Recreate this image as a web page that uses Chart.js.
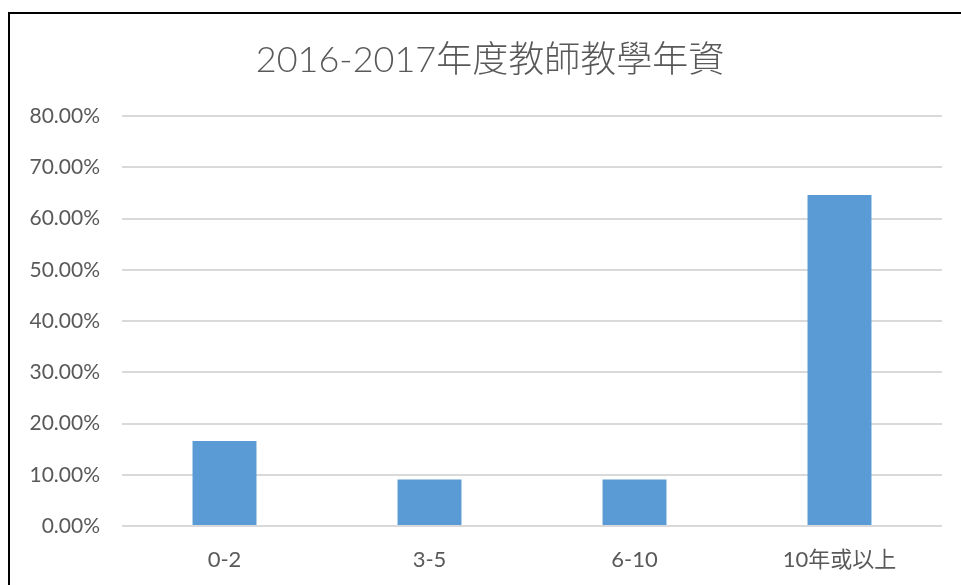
<!DOCTYPE html>
<html>
<head>
<meta charset="utf-8">
<script src="https://cdn.jsdelivr.net/npm/chart.js@4/dist/chart.umd.min.js"></script>
<style>
  html, body { margin: 0; padding: 0; background: #fff; }
  #wrap { position: relative; width: 961px; height: 585px; overflow: hidden; }
  #frame { position: absolute; left: 8px; top: 12px; width: 1000px; height: 700px;
           border-left: 2px solid #000; border-top: 2px solid #000; }
  canvas { position: absolute; left: 0; top: 0; }
</style>
</head>
<body>
<div id="wrap">
  <div id="frame"></div>
  <canvas id="barChart" width="961" height="585"></canvas>
</div>
<script>
// --- DATA ---
const categories = ['0-2', '3-5', '6-10', '10年或以上'];
const shares = [16.6, 9.1, 9.1, 64.6];   // percent of teachers
const yTicks = [0, 10, 20, 30, 40, 50, 60, 70, 80];

const FONT = "Lato, 'Noto Sans CJK TC', 'Noto Sans', sans-serif";
const GREY = '#595959';

// centre the title like the original (a bit right of the canvas middle)
const shiftTitle = {
    id: 'shiftTitle',
    afterLayout(chart) {
        if (chart.titleBlock) chart.titleBlock.left = 38;
    }
};

const ctx = document.getElementById('barChart').getContext('2d');

new Chart(ctx, {
    type: 'bar',
    data: {
        labels: categories,
        datasets: [{
            data: shares,
            backgroundColor: '#5b9bd5',
            borderWidth: 0,
            categoryPercentage: 1,
            barPercentage: 0.312
        }]
    },
    plugins: [shiftTitle],
    options: {
        responsive: false,
        animation: false,
        layout: { padding: { top: 39, right: 19, bottom: 0, left: 0 } },
        plugins: {
            legend: { display: false },
            tooltip: { enabled: false },
            title: {
                display: true,
                text: '2016-2017年度教師教學年資',
                color: GREY,
                font: { family: FONT, size: 36, weight: 300, lineHeight: 1.2 },
                padding: { top: 0, bottom: 34 }
            }
        },
        scales: {
            x: {
                grid: { display: false },
                border: { display: false },
                ticks: {
                    color: GREY,
                    font: { family: FONT, size: 22 },
                    padding: 13,
                    maxRotation: 0
                },
                afterFit: (axis) => { axis.height = 59; }
            },
            y: {
                min: 0,
                max: 80,
                afterBuildTicks: (axis) => { axis.ticks = yTicks.map(v => ({ value: v })); },
                grid: { color: '#d9d9d9', lineWidth: 2, drawTicks: false },
                border: { display: false },
                ticks: {
                    color: GREY,
                    font: { family: FONT, size: 21 },
                    padding: 22,
                    callback: (v) => v.toFixed(2) + '%'
                },
                afterFit: (axis) => { axis.width = 122; }
            }
        }
    }
});
</script>
</body>
</html>
